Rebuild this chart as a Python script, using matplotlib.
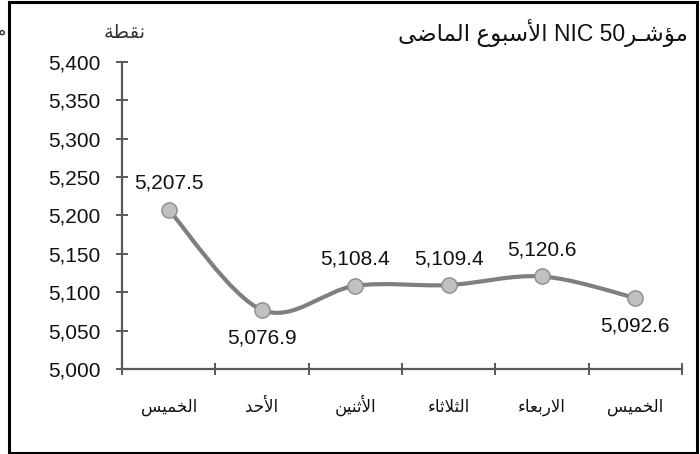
import numpy as np
import matplotlib
matplotlib.use("Agg")
import matplotlib.pyplot as plt
from matplotlib.path import Path
from matplotlib.patches import PathPatch, Rectangle

plt.rcParams['font.family'] = ['Liberation Sans', 'DejaVu Sans']

days = ['الخميس', 'الأحد', 'الأثنين', 'الثلاثاء', 'الاربعاء', 'الخميس']
values = [5207.5, 5076.9, 5108.4, 5109.4, 5120.6, 5092.6]
label_above = [True, False, True, True, True, False]
yticks = [5000, 5050, 5100, 5150, 5200, 5250, 5300, 5350, 5400]
unit_label = 'نقطة'

# matplotlib has no arabic shaping, so pick the presentation forms by hand
# (isolated, final, initial, medial)
FORMS = {
    'ا': ('\ufe8d', '\ufe8e', None, None),
    'أ': ('\ufe83', '\ufe84', None, None),
    'ب': ('\ufe8f', '\ufe90', '\ufe91', '\ufe92'),
    'ة': ('\ufe93', '\ufe94', None, None),
    'ت': ('\ufe95', '\ufe96', '\ufe97', '\ufe98'),
    'ث': ('\ufe99', '\ufe9a', '\ufe9b', '\ufe9c'),
    'ح': ('\ufea1', '\ufea2', '\ufea3', '\ufea4'),
    'خ': ('\ufea5', '\ufea6', '\ufea7', '\ufea8'),
    'د': ('\ufea9', '\ufeaa', None, None),
    'ر': ('\ufead', '\ufeae', None, None),
    'س': ('\ufeb1', '\ufeb2', '\ufeb3', '\ufeb4'),
    'ش': ('\ufeb5', '\ufeb6', '\ufeb7', '\ufeb8'),
    'ض': ('\ufebd', '\ufebe', '\ufebf', '\ufec0'),
    'ط': ('\ufec1', '\ufec2', '\ufec3', '\ufec4'),
    'ع': ('\ufec9', '\ufeca', '\ufecb', '\ufecc'),
    'ق': ('\ufed5', '\ufed6', '\ufed7', '\ufed8'),
    'ل': ('\ufedd', '\ufede', '\ufedf', '\ufee0'),
    'م': ('\ufee1', '\ufee2', '\ufee3', '\ufee4'),
    'ن': ('\ufee5', '\ufee6', '\ufee7', '\ufee8'),
    'و': ('\ufeed', '\ufeee', None, None),
    'ؤ': ('\ufe85', '\ufe86', None, None),
    'ى': ('\ufeef', '\ufef0', None, None),
    'ي': ('\ufef1', '\ufef2', '\ufef3', '\ufef4'),
    'ء': ('\ufe80', None, None, None),
    'ـ': ('\u0640', '\u0640', '\u0640', '\u0640'),
}
LAM_ALEF = {'ا': ('\ufefb', '\ufefc', None, None),
            'أ': ('\ufef7', '\ufef8', None, None)}


def shape(word):
    tokens = []
    i = 0
    while i < len(word):
        if word[i] == 'ل' and i + 1 < len(word) and word[i + 1] in LAM_ALEF:
            tokens.append(LAM_ALEF[word[i + 1]])
            i += 2
        else:
            tokens.append(FORMS.get(word[i], word[i]))
            i += 1
    out = []
    for k, t in enumerate(tokens):
        if isinstance(t, str):
            out.append(t)
            continue
        iso, fin, ini, med = t
        prev = tokens[k - 1] if k > 0 else None
        nxt = tokens[k + 1] if k + 1 < len(tokens) else None
        p = isinstance(prev, tuple) and prev[2] is not None
        n = isinstance(nxt, tuple) and nxt[1] is not None
        if p and n and med:
            out.append(med)
        elif p and fin:
            out.append(fin)
        elif n and ini:
            out.append(ini)
        else:
            out.append(iso)
    return ''.join(reversed(out))


def rtl(text):
    return ' '.join(shape(w) for w in reversed(text.split(' ')))


title = rtl('الأسبوع الماضى') + ' NIC 50' + shape('مؤشـر')

fig = plt.figure(figsize=(7, 4.54), dpi=100)
ax = fig.add_axes([122 / 700, 85 / 454, 560 / 700, 307 / 454])

x = np.arange(len(values)) + 0.5
pts = np.column_stack([x, values])

# smoothed line like the spreadsheet one (catmull-rom as bezier)
ext = np.vstack([pts[0], pts, pts[-1]])
verts = [tuple(pts[0])]
codes = [Path.MOVETO]
for i in range(len(pts) - 1):
    p0, p1, p2, p3 = ext[i], ext[i + 1], ext[i + 2], ext[i + 3]
    verts += [tuple(p1 + (p2 - p0) / 6), tuple(p2 - (p3 - p1) / 6), tuple(p2)]
    codes += [Path.CURVE4] * 3
ax.add_patch(PathPatch(Path(verts, codes), fill=False, ec='#7f7f7f', lw=3.0,
                       capstyle='round', zorder=2))
ax.plot(x, values, 'o', ms=11, mfc='#c0c0c0', mec='#8c8c8c', mew=1, zorder=3)

for xi, v, up in zip(x, values, label_above):
    ax.annotate(f'{v:,.1f}', (xi, v), xytext=(0, 19 if up else -20),
                textcoords='offset points', ha='center', va='center',
                fontsize=15, color='#111111')

ax.set_xlim(0, len(values))
ax.set_ylim(yticks[0], yticks[-1])
ax.set_yticks(yticks)
ax.set_yticklabels([f'{t:,}' for t in yticks])
ax.set_xticks(np.arange(len(values) + 1))
ax.set_xticklabels([])
ax.set_xticks(x, minor=True)
ax.set_xticklabels([rtl(d) for d in days], minor=True)
for lab in ax.get_xticklabels(minor=True):
    lab.set_va('baseline')

for s in ['top', 'right']:
    ax.spines[s].set_visible(False)
for s in ['left', 'bottom']:
    ax.spines[s].set_color('#595959')
    ax.spines[s].set_linewidth(1.6)
ax.tick_params(axis='both', which='major', direction='inout', length=9,
               width=1.4, color='#595959', labelsize=15, labelcolor='#111111')
ax.tick_params(axis='y', pad=11)
ax.tick_params(axis='x', which='minor', length=0, pad=31, labelsize=12,
               labelcolor='#111111')
ax.patch.set_visible(False)

fig.text(688 / 700, 1 - 33 / 454, title, ha='right', va='center',
         fontsize=16.5, color='#111111')
fig.text(125 / 700, 1 - 33 / 454, rtl(unit_label), ha='center', va='center',
         fontsize=14, color='#333333')
fig.text(-4 / 700, 1 - 33 / 454, shape('م'), ha='left', va='center',
         fontsize=12, color='#333333')
fig.add_artist(Rectangle((9 / 700, 1.5 / 454), 687.5 / 700, 450.5 / 454,
                         transform=fig.transFigure, fill=False, ec='black',
                         lw=2.2))

fig.savefig('out.png', dpi=100)
